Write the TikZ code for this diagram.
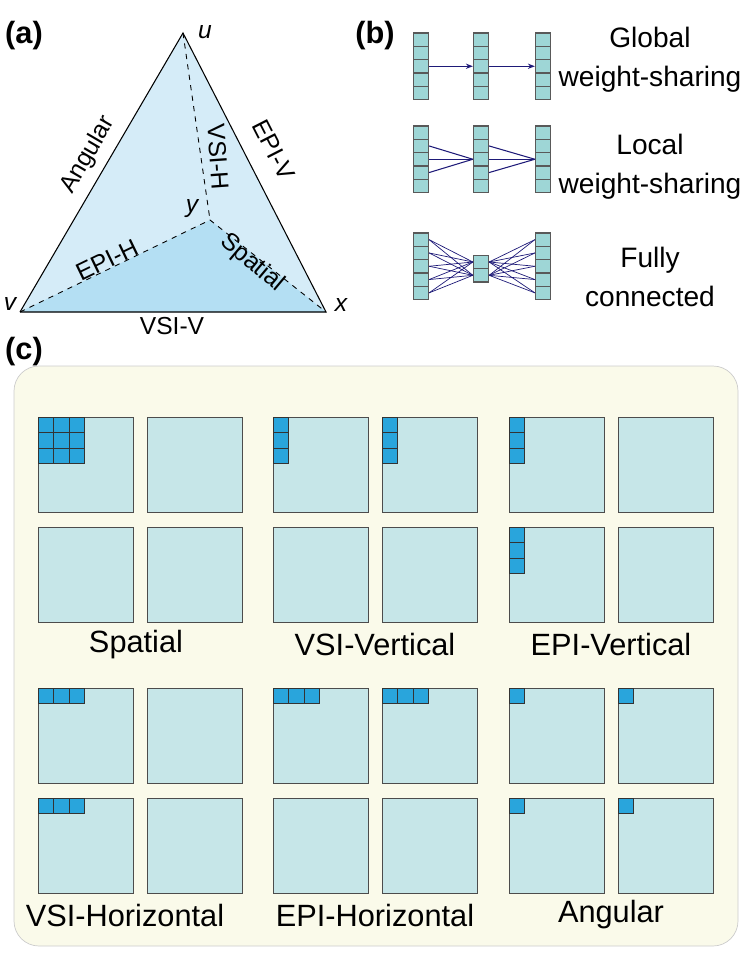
\documentclass[tikz,border=0pt]{standalone}
\usepackage{fontspec}
\setmainfont{Liberation Sans}
\usetikzlibrary{arrows.meta}
\definecolor{triLight}{HTML}{D5ECF8}
\definecolor{triDark}{HTML}{B4DFF3}
\definecolor{cellFill}{HTML}{9ED6D6}
\definecolor{viewFill}{HTML}{C6E6E8}
\definecolor{kernFill}{HTML}{29A5DC}
\definecolor{panelFill}{HTML}{FAFAEA}
\definecolor{linkBlue}{HTML}{1E1A78}
\newcommand{\bigfont}{\fontsize{17.5}{21}\selectfont}
\newcommand{\midfont}{\fontsize{16}{19}\selectfont}
\newcommand{\trifont}{\fontsize{14}{17}\selectfont}
\begin{document}
\begin{tikzpicture}[x=0.02cm, y=-0.02cm,
        label/.style={font=\bigfont, inner sep=0pt},
        trilabel/.style={font=\trifont, inner sep=0pt},
        panel/.style={font=\bigfont\bfseries, inner sep=0pt},
        cell/.style={draw=black!65, fill=cellFill, minimum width=0.3cm, minimum height=0.266cm, inner sep=0pt, line width=0.7pt},
        link/.style={draw=linkBlue, line width=0.6pt},
        view/.style={draw=black!70, fill=viewFill, line width=0.4pt},
        kern/.style={draw=black!80, fill=kernFill, line width=0.4pt}
      ]
      \useasboundingbox (0,0) rectangle (746,961);

      % (a) triangle
      \node[panel] (pa) at (24,36) {(a)};
      \coordinate (u) at (183,33);
      \coordinate (v) at (20,312);
      \coordinate (x) at (326,312);
      \coordinate (y) at (210,220);
      \fill[triLight] (u) -- (v) -- (x) -- cycle;
      \fill[triDark] (v) -- (y) -- (x) -- cycle;
      \draw[line width=0.6pt] (v) -- (u) -- (x) -- (v);
      \draw[dashed, line width=0.5pt] (u) -- (y) (v) -- (y) -- (x);
      \node[trilabel, font=\trifont\itshape] (lu) at (205,32) {u};
      \node[trilabel, font=\trifont\itshape] (lv) at (10,304) {v};
      \node[trilabel, font=\trifont\itshape] (lx) at (341,305) {x};
      \node[trilabel, font=\trifont\itshape] (ly) at (192,209) {y};
      \node[trilabel, rotate=59.7] (angular) at (88,155) {Angular};
      \node[trilabel, rotate=-62.9] (epiv) at (274,150) {EPI-V};
      \node[trilabel, rotate=-86] (vsih) at (218,157) {VSI-H};
      \node[trilabel, rotate=25.8] (epih) at (107,260) {EPI-H};
      \node[trilabel, rotate=-40] (spatial) at (252,263) {Spatial};
      \node[trilabel] (vsiv) at (172,326) {VSI-V};

      % (b) weight sharing
      \node[panel] (pb) at (375,36) {(b)};
      \foreach \r/\ty in {1/33, 2/126, 3/233} {
        \foreach \c/\cx in {1/421, 3/543} {
          \foreach \k in {1,...,5}
            \node[cell] (r\r c\c k\k) at (\cx, \ty+13.3*\k-6.65) {};
        }
      }
      \foreach \r/\ty in {1/33, 2/126} {
        \foreach \k in {1,...,5}
          \node[cell] (r\r c2k\k) at (481, \ty+13.3*\k-6.65) {};
      }
      \node[cell] (r3c2k1) at (481,262) {};
      \node[cell] (r3c2k2) at (481,275.3) {};
      % global
      \draw[link, -{Stealth[length=4pt]}] (r1c1k3.east) -- (r1c2k3.west);
      \draw[link, -{Stealth[length=4pt]}] (r1c2k3.east) -- (r1c3k3.west);
      % local
      \foreach \k in {2,3,4} {
        \draw[link] (r2c1k\k.east) -- (r2c2k3.west);
        \draw[link] (r2c2k\k.east) -- (r2c3k3.west);
      }
      % fully connected
      \foreach \k in {1,...,5}
        \foreach \m in {1,2} {
          \draw[link, line width=0.4pt] (r3c1k\k.east) -- (r3c2k\m.west);
          \draw[link, line width=0.4pt] (r3c3k\k.west) -- (r3c2k\m.east);
        }
      \node[label, font=\midfont, align=center] (global) at (650,60) {Global\\[3pt]weight-sharing};
      \node[label, font=\midfont, align=center] (local) at (650,167) {Local\\[3pt]weight-sharing};
      \node[label, font=\midfont, align=center] (fully) at (650,277) {Fully\\[3pt]connected};

      % (c) kernels on views
      \node[panel] (pc) at (24,352) {(c)};
      \draw[black!20, fill=panelFill, rounded corners=0.5cm] (14,366) rectangle (738,946);
      \foreach \gx in {38, 273, 509}
        \foreach \gy in {417, 688}
          \foreach \dx in {0,109}
            \foreach \dy in {0,110}
              \draw[view] (\gx+\dx,\gy+\dy) rectangle ++(95,95);
      % spatial
      \foreach \i in {0,1,2}
        \foreach \j in {0,1,2}
          \draw[kern] (38+15.5*\i,417+15.5*\j) rectangle ++(15.5,15.5);
      % VSI-Vertical
      \foreach \dx in {0,109}
        \foreach \j in {0,1,2}
          \draw[kern] (273+\dx,417+15.5*\j) rectangle ++(15.5,15.5);
      % EPI-Vertical
      \foreach \dy in {0,110}
        \foreach \j in {0,1,2}
          \draw[kern] (509,417+\dy+15.5*\j) rectangle ++(15.5,15.5);
      % VSI-Horizontal
      \foreach \dy in {0,110}
        \foreach \i in {0,1,2}
          \draw[kern] (38+15.5*\i,688+\dy) rectangle ++(15.5,15.5);
      % EPI-Horizontal
      \foreach \dx in {0,109}
        \foreach \i in {0,1,2}
          \draw[kern] (273+\dx+15.5*\i,688) rectangle ++(15.5,15.5);
      % Angular
      \foreach \dx in {0,109}
        \foreach \dy in {0,110}
          \draw[kern] (509+\dx,688+\dy) rectangle ++(15.5,15.5);
      \node[label] (spatialc) at (136,645) {Spatial};
      \node[label] (vsivert) at (375,645) {VSI-Vertical};
      \node[label] (epivert) at (611,645) {EPI-Vertical};
      \node[label] (vsihor) at (125,915) {VSI-Horizontal};
      \node[label] (epihor) at (375,915) {EPI-Horizontal};
      \node[label] (angularc) at (611,915) {Angular};
    \end{tikzpicture}
\end{document}
